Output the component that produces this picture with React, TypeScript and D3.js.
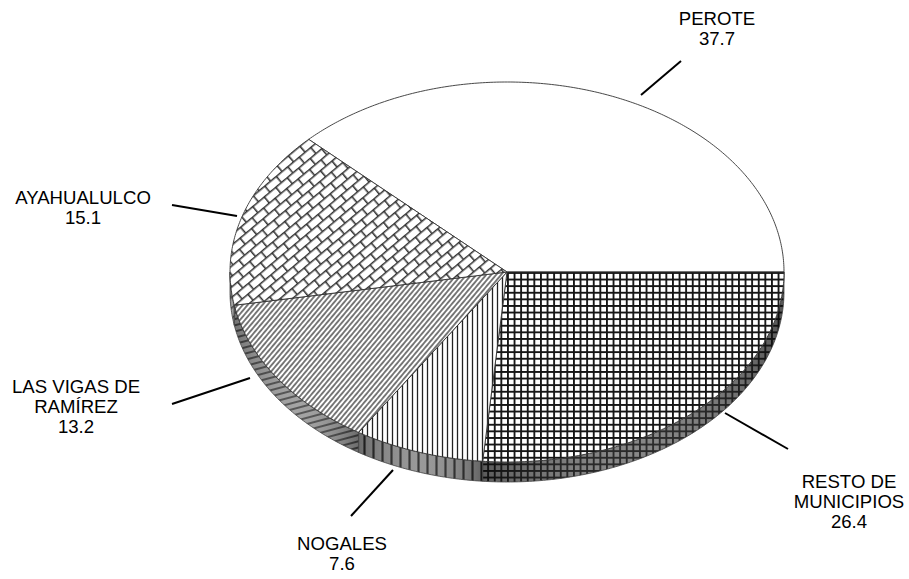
import React from "react"
import * as d3 from "d3"

// datos del grafico (porcentajes por municipio)
const municipios = ["PEROTE", "RESTO DE MUNICIPIOS", "NOGALES", "LAS VIGAS DE RAMÍREZ", "AYAHUALULCO"]
const valores = [37.7, 26.4, 7.6, 13.2, 15.1]
const etiquetas = [["PEROTE"], ["RESTO DE", "MUNICIPIOS"], ["NOGALES"], ["LAS VIGAS DE", "RAMÍREZ"], ["AYAHUALULCO"]]
const patrones = ["blanco", "rejilla", "vertical", "diagonal", "ladrillo"]

// posicion de etiquetas y lineas guia (x, y del texto; linea desde/hasta)
const layout: Record<string, { tx: number; ty: number; line: number[] }> = {
  "PEROTE": { tx: 717, ty: 25, line: [641, 95, 681, 61] },
  "RESTO DE MUNICIPIOS": { tx: 849, ty: 488, line: [725, 413, 788, 449] },
  "NOGALES": { tx: 342, ty: 550, line: [393, 470, 351, 516] },
  "LAS VIGAS DE RAMÍREZ": { tx: 76, ty: 393, line: [250, 378, 172, 404] },
  "AYAHUALULCO": { tx: 83, ty: 204, line: [237, 216, 172, 205] },
}

const W = 909, H = 579
const cx = 507, cy = 272, rx = 277, ry = 190, depth = 20

const px = (a: number) => cx + rx * Math.sin(a)
const py = (a: number) => cy - ry * Math.cos(a)

export default function App() {
  // PEROTE termina en las 3 en punto, el resto sigue en sentido horario
  const total = d3.sum(valores)
  const start = Math.PI / 2 - (2 * Math.PI * valores[0]) / total
  const pie = d3.pie<number>().sort(null).startAngle(start).endAngle(start + 2 * Math.PI)
  const arcs = pie(valores)
  const line = d3.line<[number, number]>()

  const topPath = (a0: number, a1: number) => {
    const n = Math.max(2, Math.ceil((a1 - a0) / 0.01))
    const pts: [number, number][] = [[cx, cy]]
    d3.range(n + 1).forEach(i => {
      const a = a0 + ((a1 - a0) * i) / n
      pts.push([px(a), py(a)])
    })
    return line(pts) + "Z"
  }

  // lado frontal (solo la mitad de enfrente, entre 90 y 270 grados)
  const sidePath = (a0: number, a1: number) => {
    const lo = Math.PI / 2, hi = (3 * Math.PI) / 2
    const out: string[] = []
    ;[-2 * Math.PI, 0, 2 * Math.PI].forEach(off => {
      const s = Math.max(a0, lo + off), e = Math.min(a1, hi + off)
      if (e <= s) return
      const n = Math.max(2, Math.ceil((e - s) / 0.01))
      const top: [number, number][] = d3.range(n + 1).map(i => {
        const a = s + ((e - s) * i) / n
        return [px(a), py(a)]
      })
      const bottom = top.slice().reverse().map(([x, y]) => [x, y + depth] as [number, number])
      out.push(line(top.concat(bottom)) + "Z")
    })
    return out
  }

  const font = "'Liberation Sans', Arial, sans-serif"

  return (
    <svg width={W} height={H} style={{ position: "absolute", left: 0, top: 0, background: "#fff" }}>
      <defs>
        <pattern id="p-blanco" patternUnits="userSpaceOnUse" width={10} height={10}>
          <rect width={10} height={10} fill="#fff" />
        </pattern>
        <pattern id="s-blanco" patternUnits="userSpaceOnUse" width={10} height={10}>
          <rect width={10} height={10} fill="#999" />
        </pattern>

        <pattern id="p-rejilla" patternUnits="userSpaceOnUse" width={6.6} height={6.6} x={cx} y={cy}>
          <rect width={6.6} height={6.6} fill="#fff" />
          <path d="M0,0.9H6.6M0.9,0V6.6" stroke="#151515" strokeWidth={1.9} />
        </pattern>
        <pattern id="s-rejilla" patternUnits="userSpaceOnUse" width={6.6} height={6.6} x={cx} y={cy}>
          <rect width={6.6} height={6.6} fill="#7a7a7a" />
          <path d="M0,0.9H6.6M0.9,0V6.6" stroke="#111" strokeWidth={1.9} />
        </pattern>

        <pattern id="p-vertical" patternUnits="userSpaceOnUse" width={5} height={10}>
          <rect width={5} height={10} fill="#fff" />
          <path d="M2.5,0V10" stroke="#222" strokeWidth={1.3} />
        </pattern>
        <pattern id="s-vertical" patternUnits="userSpaceOnUse" width={9} height={10}>
          <rect width={9} height={10} fill="#8e8e8e" />
          <path d="M4.5,0V10" stroke="#222" strokeWidth={2.2} />
        </pattern>

        <pattern id="p-diagonal" patternUnits="userSpaceOnUse" width={3.8} height={10} patternTransform="rotate(40)">
          <rect width={3.8} height={10} fill="#fff" />
          <path d="M1.9,0V10" stroke="#444" strokeWidth={1.4} />
        </pattern>
        <pattern id="s-diagonal" patternUnits="userSpaceOnUse" width={6} height={10} patternTransform="rotate(75)">
          <rect width={6} height={10} fill="#9a9a9a" />
          <path d="M3,0V10" stroke="#444" strokeWidth={2} />
        </pattern>

        <pattern id="p-ladrillo" patternUnits="userSpaceOnUse" width={15} height={16} patternTransform="rotate(-40)">
          <rect width={15} height={16} fill="#fff" />
          <path d="M0,0.8H15M0,8.8H15M0.8,0V8M8.3,8V16" stroke="#333" strokeWidth={1.6} />
        </pattern>
        <pattern id="s-ladrillo" patternUnits="userSpaceOnUse" width={15} height={16} patternTransform="rotate(-40)">
          <rect width={15} height={16} fill="#999" />
          <path d="M0,0.8H15M0,8.8H15M0.8,0V8M8.3,8V16" stroke="#333" strokeWidth={1.6} />
        </pattern>

        <linearGradient id="sombra" x1="0" x2="1" y1="0" y2="0">
          <stop offset="0" stopColor="#000" stopOpacity={0.25} />
          <stop offset="0.5" stopColor="#fff" stopOpacity={0.1} />
          <stop offset="1" stopColor="#000" stopOpacity={0.3} />
        </linearGradient>
      </defs>

      {/* lados */}
      <g>
        {arcs.map((d, i) =>
          sidePath(d.startAngle, d.endAngle).map((p, j) => (
            <g key={i + "-" + j}>
              <path d={p} fill={`url(#s-${patrones[i]})`} />
              <path d={p} fill="url(#sombra)" stroke="#444" strokeWidth={0.8} />
            </g>
          ))
        )}
      </g>

      {/* caras superiores */}
      <g>
        {arcs.map((d, i) => (
          <path key={i} d={topPath(d.startAngle, d.endAngle)} fill={`url(#p-${patrones[i]})`}
            stroke="#333" strokeWidth={0.9} strokeLinejoin="round" />
        ))}
      </g>

      {/* etiquetas */}
      <g fontFamily={font} fontSize={18.6} textAnchor="middle" fill="#000">
        {municipios.map((m, i) => {
          const l = layout[m]
          const lines = etiquetas[i].concat([String(valores[i])])
          return (
            <g key={m}>
              <line x1={l.line[0]} y1={l.line[1]} x2={l.line[2]} y2={l.line[3]} stroke="#000" strokeWidth={2} />
              {lines.map((t, k) => (
                <text key={k} x={l.tx} y={l.ty + k * 20}>{t}</text>
              ))}
            </g>
          )
        })}
      </g>
    </svg>
  )
}
